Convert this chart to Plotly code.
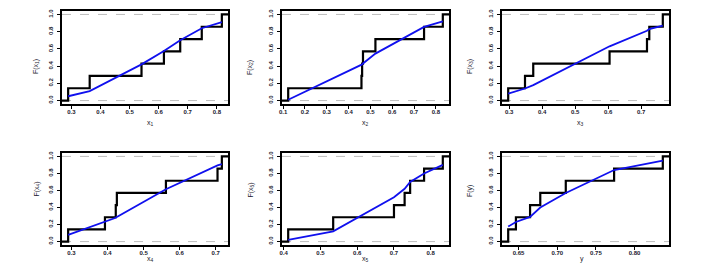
import plotly.graph_objects as go

# ---- data ----
x1 = [0.289, 0.363, 0.541, 0.618, 0.674, 0.748, 0.817]
F1 = [0.05, 0.11, 0.42, 0.576, 0.70, 0.84, 0.91]

x2 = [0.123, 0.459, 0.462, 0.466, 0.523, 0.746, 0.832]
F2 = [0.01, 0.41, 0.42, 0.43, 0.545, 0.856, 0.92]

x3 = [0.297, 0.348, 0.373, 0.6045, 0.718, 0.725, 0.766]
F3 = [0.08, 0.14, 0.18, 0.63, 0.81, 0.83, 0.87]

x4 = [0.291, 0.393, 0.423, 0.426, 0.562, 0.705, 0.717]
F4 = [0.08, 0.23, 0.28, 0.29, 0.615, 0.895, 0.91]

x5 = [0.412, 0.5345, 0.70, 0.729, 0.744, 0.782, 0.833]
F5 = [0.02, 0.12, 0.52, 0.62, 0.70, 0.80, 0.90]

yv = [0.6365, 0.6465, 0.6648, 0.678, 0.711, 0.7735, 0.8365]
Fy = [0.176, 0.23, 0.29, 0.40, 0.57, 0.84, 0.95]

x_titles = ["x<sub>1</sub>", "x<sub>2</sub>", "x<sub>3</sub>", "x<sub>4</sub>", "x<sub>5</sub>", "y"]
y_titles = ["F(x<sub>1</sub>)", "F(x<sub>2</sub>)", "F(x<sub>3</sub>)",
            "F(x<sub>4</sub>)", "F(x<sub>5</sub>)", "F(y)"]
x_dticks = [0.1, 0.1, 0.1, 0.1, 0.1, 0.05]
y_ticks = [0.0, 0.2, 0.4, 0.6, 0.8, 1.0]

panels = [(x1, F1), (x2, F2), (x3, F3), (x4, F4), (x5, F5), (yv, Fy)]

W, H = 710, 273
col_px = [(62, 228), (282, 449), (502, 669)]
row_px = [(11, 104), (153, 245)]
xtitle_gap = [19, 20]

fig = go.Figure()
font_tick = dict(family="Liberation Sans, Arial, sans-serif", size=6, color="#1a1a2e", weight="bold")
font_title = dict(family="Liberation Sans, Arial, sans-serif", size=7, color="#1a1a2e")

for i, (xs, fs) in enumerate(panels):
    r, c = divmod(i, 3)
    ax = "" if i == 0 else str(i + 1)
    xa, ya = "x" + ax, "y" + ax
    n = len(xs)
    lo, hi = min(xs), max(xs)
    pad = 0.04 * (hi - lo)
    xmin, xmax = lo - pad, hi + pad
    ecdf_y = [(k + 1) / n for k in range(n)]

    # dashed reference lines at 0 and 1
    for lev in (0.0, 1.0):
        fig.add_trace(go.Scatter(x=[xmin, xmax], y=[lev, lev], mode="lines",
                                 line=dict(color="#bdbdbd", width=1, dash="dash"),
                                 xaxis=xa, yaxis=ya, showlegend=False, hoverinfo="skip"))
    # empirical CDF step
    fig.add_trace(go.Scatter(x=[xmin] + list(xs) + [xmax], y=[0.0] + ecdf_y + [1.0],
                             mode="lines", line=dict(color="black", width=2.2, shape="hv"),
                             xaxis=xa, yaxis=ya, showlegend=False))
    # fitted CDF
    fig.add_trace(go.Scatter(x=xs, y=fs, mode="lines",
                             line=dict(color="#1010ee", width=1.8),
                             xaxis=xa, yaxis=ya, showlegend=False))

    x0p, x1p = col_px[c]
    t, b = row_px[r]
    xdom = [x0p / W, x1p / W]
    ydom = [1 - b / H, 1 - t / H]
    dt = x_dticks[i]
    first = round(int(xmin / dt + 0.9999) * dt, 4)
    fig.update_layout(**{
        ("xaxis" + ax): dict(domain=xdom, range=[xmin, xmax], anchor=ya, automargin=False,
                             tick0=first, dtick=dt, tickformat=".2f" if dt < 0.1 else ".1f",
                             showgrid=False, zeroline=False, showline=True, mirror=True,
                             linecolor="black", linewidth=1.5, ticks="outside", ticklen=3,
                             tickcolor="black", tickfont=font_tick, ticklabelstandoff=-2),
        ("yaxis" + ax): dict(domain=ydom, range=[-0.04, 1.04], anchor=xa, automargin=False,
                             tickvals=y_ticks, ticktext=[f"{v:.1f}" for v in y_ticks],
                             tickangle=-90, showgrid=False, zeroline=False, showline=True,
                             mirror=True, linecolor="black", linewidth=1.5, ticks="outside",
                             ticklen=3, tickcolor="black", tickfont=font_tick,
                             ticklabelstandoff=2),
    })
    # axis titles
    fig.add_annotation(x=(x0p + x1p) / 2 / W, y=1 - (b + xtitle_gap[r]) / H,
                       xref="paper", yref="paper",
                       text=x_titles[i], showarrow=False, font=font_title)
    fig.add_annotation(x=(x0p - 32) / W, y=1 - (t + b) / 2 / H, xref="paper", yref="paper",
                       text=y_titles[i], showarrow=False, textangle=-90, font=font_title)

fig.update_layout(width=W, height=H, margin=dict(l=0, r=0, t=0, b=0),
                  plot_bgcolor="white", paper_bgcolor="white", showlegend=False)

fig.write_html("out.html", config={"displayModeBar": False},
               post_script="document.body.style.margin='0';document.body.style.padding='0';")
